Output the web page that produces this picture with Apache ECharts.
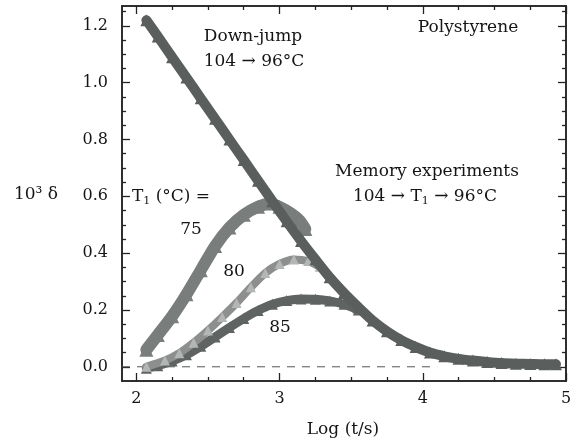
<!DOCTYPE html>
<html><head><meta charset="utf-8">
<script src="https://cdn.jsdelivr.net/npm/echarts@6/dist/echarts.min.js"></script>
<style>html,body{margin:0;padding:0;background:#fff}#c{width:578px;height:447px}</style>
</head><body><div id="c"></div>
<script>
// Down-jump 104 -> 96 C
const downX = [2.07,2.15,2.25,2.35,2.45,2.55,2.65,2.75,2.85,2.95,3.05,3.15,3.25,3.35,3.45,3.55,3.65,3.75,3.85,3.95,4.05,4.15,4.25,4.35,4.45,4.55,4.65,4.75,4.85,4.93];
const downY = [1.220,1.163,1.090,1.018,0.945,0.873,0.800,0.728,0.655,0.583,0.512,0.443,0.378,0.315,0.260,0.210,0.163,0.125,0.094,0.070,0.050,0.037,0.028,0.022,0.017,0.013,0.011,0.010,0.009,0.009];
// Memory experiments, T1 = 75
const t75X = [2.07,2.15,2.25,2.35,2.45,2.55,2.65,2.75,2.85,2.93,3.00,3.08,3.14,3.18];
const t75Y = [0.060,0.112,0.178,0.255,0.340,0.425,0.490,0.535,0.563,0.575,0.563,0.540,0.515,0.485];
// T1 = 80
const t80X = [2.07,2.2,2.3,2.4,2.5,2.6,2.7,2.8,2.9,3.0,3.1,3.2,3.28];
const t80Y = [0.000,0.022,0.048,0.085,0.128,0.175,0.225,0.280,0.330,0.362,0.378,0.372,0.352];
// T1 = 85
const t85X = [2.07,2.15,2.25,2.35,2.45,2.55,2.65,2.75,2.85,2.95,3.05,3.15,3.25,3.35,3.45,3.55];
const t85Y = [-0.005,0.004,0.020,0.042,0.072,0.105,0.138,0.170,0.198,0.220,0.233,0.239,0.238,0.232,0.220,0.200];
// zero reference line
const zeroX = [1.9,4.1];
const zeroY = [0,0];
// ticks
const xMajor = [2,3,4,5];
const xMinor = [2.25,2.5,2.75,3.25,3.5,3.75,4.25,4.5,4.75];
const yMajor = [0,0.2,0.4,0.6,0.8,1.0,1.2];
const yMinor = [0.05,0.1,0.15,0.25,0.3,0.35,0.45,0.5,0.55,0.65,0.7,0.75,0.85,0.9,0.95,1.05,1.1,1.15,1.25];

const zip = (xs, ys) => xs.map((x, i) => [x, ys[i]]);
const FONT = 'DejaVu Serif';
const INK = '#151515';

function xa(pos, vals, len, labels) {
  return {
    type: 'value', min: 1.9, max: 5, position: pos,
    axisLine: {show: true, onZero: false, lineStyle: {color: '#222', width: 1.5}},
    axisTick: {show: true, inside: true, length: len, customValues: vals, lineStyle: {color: '#222', width: 1.3}},
    axisLabel: labels ? {show: true, customValues: vals, margin: 10, color: INK, fontFamily: FONT, fontSize: 16,
      formatter: v => String(Math.round(v))} : {show: false},
    splitLine: {show: false}
  };
}
function ya(pos, vals, len, labels) {
  return {
    type: 'value', min: -0.05, max: 1.27, position: pos,
    axisLine: {show: true, onZero: false, lineStyle: {color: '#222', width: 1.5}},
    axisTick: {show: true, inside: true, length: len, customValues: vals, lineStyle: {color: '#222', width: 1.3}},
    axisLabel: labels ? {show: true, customValues: vals, margin: 14, color: INK, fontFamily: FONT, fontSize: 16,
      formatter: v => v.toFixed(1)} : {show: false},
    splitLine: {show: false}
  };
}

function curve(name, data, color, width, symColor, symSize, z) {
  return {
    name, type: 'line', data, smooth: 0.25, z,
    lineStyle: {color, width, cap: 'round', join: 'round'},
    symbol: 'triangle', symbolSize: symSize, showSymbol: true,
    itemStyle: {color: symColor, borderWidth: 0},
    emphasis: {disabled: true}, animation: false
  };
}

const chart = echarts.init(document.getElementById('c'), null, {renderer: 'canvas'});
const T = (x, y, text) => ({type: 'text', x, y, style: {text, font: '17px "' + FONT + '"', fill: INK, textAlign: 'center', textVerticalAlign: 'middle'}});
const richSub = {n: {fontFamily: FONT, fontSize: 17, fill: INK}, s: {fontFamily: FONT, fontSize: 11, fill: INK, verticalAlign: 'bottom', padding: [8, 0, 0, 0]}};
chart.setOption({
  backgroundColor: '#fff',
  animation: false,
  grid: {left: 122, right: 12, top: 6, bottom: 66},
  xAxis: [xa('bottom', xMajor, 8, true), xa('bottom', xMinor, 4, false), xa('top', xMajor, 8, false), xa('top', xMinor, 4, false)],
  yAxis: [ya('left', yMajor, 8, true), ya('left', yMinor, 4, false), ya('right', yMajor, 8, false), ya('right', yMinor, 4, false)],
  series: [
    {type: 'line', data: zip(zeroX, zeroY), symbol: 'none', z: 1,
     lineStyle: {color: '#555', width: 1, type: [8, 7]}, emphasis: {disabled: true}},
    curve('85', zip(t85X, t85Y), '#5f6463', 9, '#5f6463', 11, 2),
    curve('80', zip(t80X, t80Y), '#8c8f8e', 8, '#b3b6b5', 10, 3),
    curve('75', zip(t75X, t75Y), '#797d7c', 12, '#797d7c', 14, 4),
    curve('down', zip(downX, downY), '#5a5f5e', 10, '#5a5f5e', 12, 5)
  ],
  graphic: [
    T(253, 37, 'Down-jump'),
    T(254, 62, '104 → 96°C'),
    T(468, 28, 'Polystyrene'),
    T(427, 172, 'Memory experiments'),
    {type: 'text', x: 425, y: 197, style: {text: '{n|104 → T}{s|1}{n| → 96°C}', fill: INK, textAlign: 'center', textVerticalAlign: 'middle', rich: richSub}},
    {type: 'text', x: 171, y: 197, style: {text: '{n|T}{s|1}{n| (°C) =}', fill: INK, textAlign: 'center', textVerticalAlign: 'middle', rich: richSub}},
    T(191, 230, '75'),
    T(234, 272, '80'),
    T(280, 328, '85'),
    T(36, 195, '10³ δ'),
    T(343, 430, 'Log (t/s)')
  ]
});
</script>
</body></html>
